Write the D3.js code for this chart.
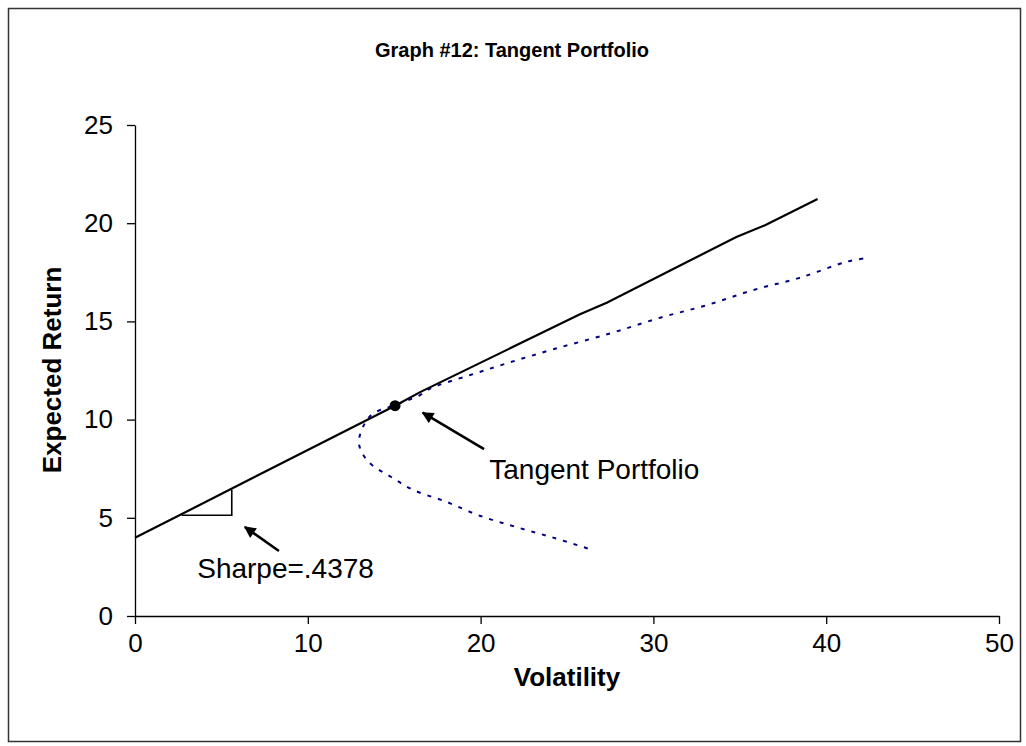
<html>
<script src='https://d3js.org/d3.v7.min.js'></script>
<head>
    <style>
        body { margin: 0; background: #fff; }
        text { font-family: "Liberation Sans", Arial, sans-serif; }
    </style>
</head>
<body>
<svg width=1026 height=746></svg>
<script>
// capital market line (volatility, expected return)
const cmlVol = [0, 15.05, 16.5, 25.75, 27.3, 34.8, 36.46, 39.5];
const cmlRet = [3.98, 10.71, 11.4, 15.36, 15.95, 19.3, 19.9, 21.23];

// efficient frontier
const frontVol = [26.2, 24.2, 22.1, 20.0, 18.0, 16.1, 14.8, 13.5, 12.96, 13.3, 13.8, 15.0, 16.5, 17.1, 19.4, 21.5, 24.2, 27.5, 30.4, 33.1, 35.8, 38.5, 41.2, 42.44];
const frontRet = [3.44, 3.99, 4.52, 5.09, 5.82, 6.42, 7.09, 7.86, 8.79, 9.81, 10.32, 10.72, 11.25, 11.59, 12.27, 12.86, 13.58, 14.39, 15.19, 15.83, 16.6, 17.23, 18.04, 18.24];

const tangent = [15.05, 10.71];

// sharpe slope triangle
const triVol = [2.7, 5.6, 5.6];
const triRet = [5.13, 5.13, 6.43];

const xTicks = [0, 10, 20, 30, 40, 50];
const yTicks = [0, 5, 10, 15, 20, 25];

// annotations: [label, textVol, textRet, arrowFromVol, arrowFromRet, arrowToVol, arrowToRet]
const notes = [
    ["Sharpe=.4378", 3.6, 1.93, 8.33, 3.31, 6.36, 4.53],
    ["Tangent Portfolio", 20.5, 7.0, 20.2, 8.5, 16.65, 10.35]
];

const svg = d3.select('svg');

// chart frame
svg.append("rect")
    .attr("x", 8.5).attr("y", 8.5)
    .attr("width", 1012).attr("height", 733)
    .style("fill", "none")
    .style("stroke", "#333")
    .style("stroke-width", 1.5);

var xs = d3.scaleLinear().domain([0, 50]).range([135, 999]);
var ys = d3.scaleLinear().domain([0, 25]).range([616, 125]);

svg.append("text")
    .attr("x", 512).attr("y", 57)
    .attr("text-anchor", "middle")
    .style("font-weight", "bold")
    .style("font-size", "20px")
    .text("Graph #12: Tangent Portfolio");

var xAxis = svg.append("g")
    .attr("transform", "translate(0,616)")
    .call(d3.axisBottom(xs).tickValues(xTicks).tickSize(8).tickSizeOuter(0).tickPadding(10));

var yAxis = svg.append("g")
    .attr("transform", "translate(135,0)")
    .call(d3.axisLeft(ys).tickValues(yTicks).tickSize(8).tickSizeOuter(0).tickPadding(14));

[xAxis, yAxis].forEach(function(a) {
    a.selectAll("path, line").style("stroke", "#000").style("stroke-width", 1.3);
    a.selectAll("text")
        .style("font-size", "26px")
        .style("font-family", "'Liberation Sans', Arial, sans-serif")
        .style("fill", "#000");
});

svg.append("text")
    .attr("x", 567).attr("y", 686)
    .attr("text-anchor", "middle")
    .style("font-weight", "bold")
    .style("font-size", "26px")
    .text("Volatility");

svg.append("text")
    .attr("transform", "translate(61,370) rotate(-90)")
    .attr("text-anchor", "middle")
    .style("font-weight", "bold")
    .style("font-size", "26px")
    .text("Expected Return");

var frontier = d3.line()
    .x(function(d, i) { return xs(frontVol[i]); })
    .y(function(d, i) { return ys(frontRet[i]); })
    .curve(d3.curveCatmullRom.alpha(0.5));

svg.append("path")
    .datum(frontVol)
    .attr("d", frontier)
    .style("fill", "none")
    .style("stroke", "#000080")
    .style("stroke-width", 2)
    .style("stroke-dasharray", "4,7");

var cml = d3.line()
    .x(function(d, i) { return xs(cmlVol[i]); })
    .y(function(d, i) { return ys(cmlRet[i]); });

svg.append("path")
    .datum(cmlVol)
    .attr("d", cml)
    .style("fill", "none")
    .style("stroke", "#000")
    .style("stroke-width", 2.2);

svg.append("path")
    .datum(triVol)
    .attr("d", d3.line()
        .x(function(d, i) { return xs(triVol[i]); })
        .y(function(d, i) { return ys(triRet[i]); }))
    .style("fill", "none")
    .style("stroke", "#000")
    .style("stroke-width", 1.6);

svg.append("circle")
    .attr("cx", xs(tangent[0]))
    .attr("cy", ys(tangent[1]))
    .attr("r", 5.5)
    .style("fill", "#000");

svg.append("defs").append("marker")
    .attr("id", "arrow")
    .attr("viewBox", "0 0 10 10")
    .attr("refX", 9).attr("refY", 5)
    .attr("markerWidth", 5).attr("markerHeight", 4.5)
    .attr("markerUnits", "strokeWidth")
    .attr("orient", "auto")
    .append("path")
    .attr("d", "M0,0 L10,5 L0,10 z")
    .style("fill", "#000");

notes.forEach(function(n) {
    svg.append("line")
        .attr("x1", xs(n[3])).attr("y1", ys(n[4]))
        .attr("x2", xs(n[5])).attr("y2", ys(n[6]))
        .style("stroke", "#000")
        .style("stroke-width", 2.6)
        .attr("marker-end", "url(#arrow)");

    svg.append("text")
        .attr("x", xs(n[1])).attr("y", ys(n[2]))
        .style("font-size", "28px")
        .text(n[0]);
});
</script>
</body>
</html>
